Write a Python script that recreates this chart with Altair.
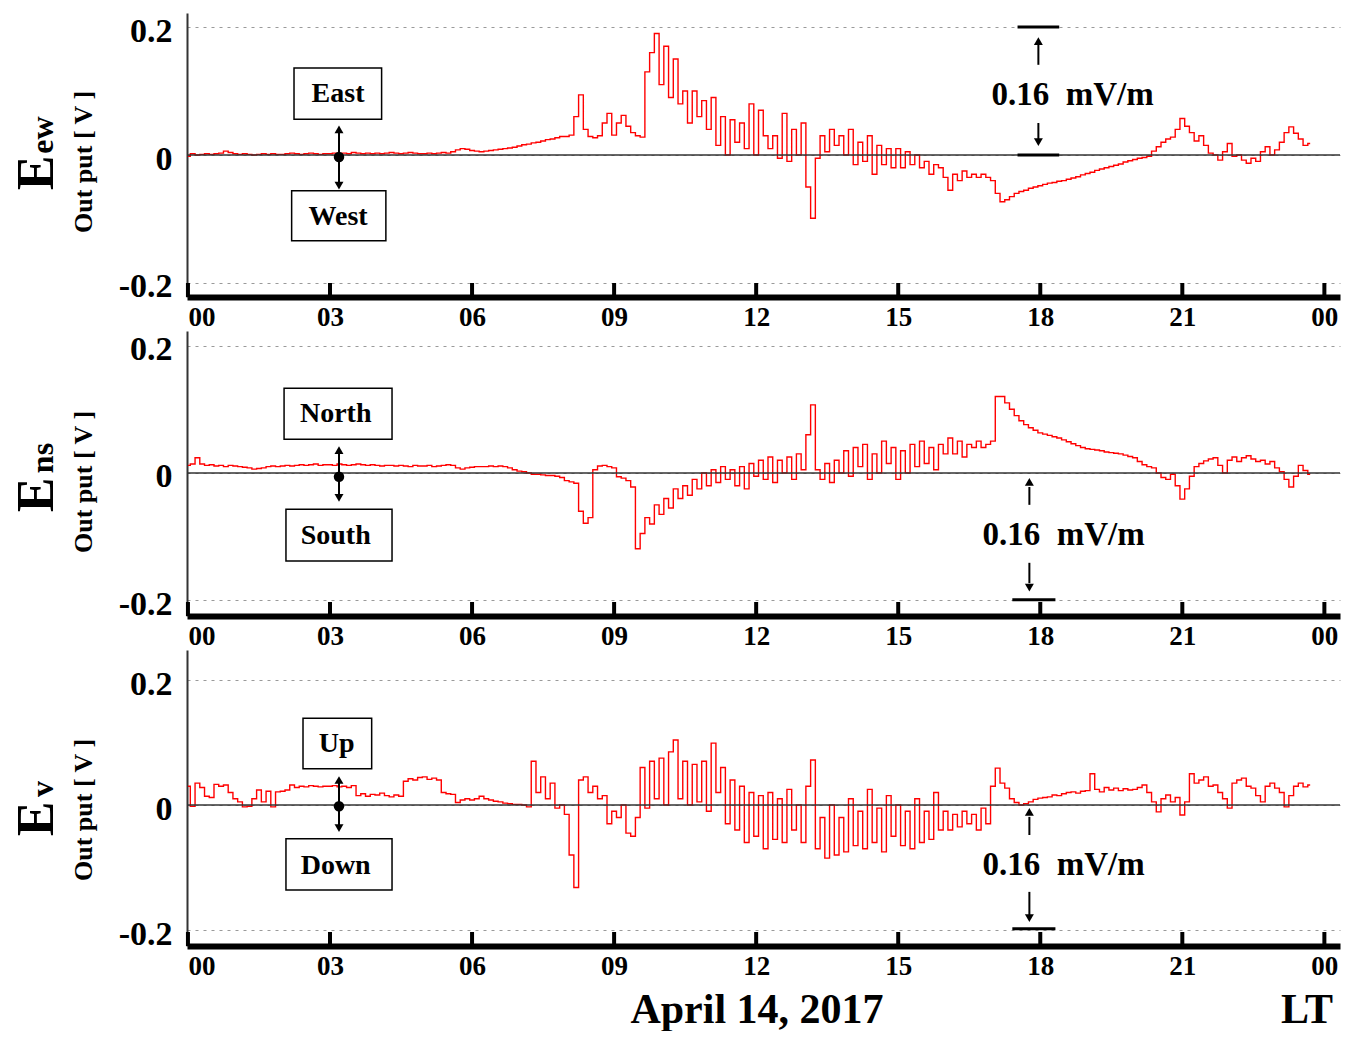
import altair as alt
import pandas as pd

STEP_H = 0.1

E_EW = [
    -0.002, 0.002, 0.000, 0.001, 0.002, 0.001, 0.002, 0.003, 0.006, 0.004,
    0.002, 0.001, 0.002, 0.001, 0.000, 0.001, 0.002, 0.001, 0.002, 0.001,
    0.001, 0.002, 0.003, 0.002, 0.001, 0.002, 0.003, 0.002, 0.001, 0.002,
    0.002, 0.003, 0.002, 0.003, 0.002, 0.004, 0.003, 0.002, 0.003, 0.002,
    0.003, 0.002, 0.003, 0.004, 0.003, 0.002, 0.003, 0.004, 0.003, 0.002,
    0.002, 0.003, 0.002, 0.003, 0.004, 0.003, 0.005, 0.008, 0.010, 0.009,
    0.007, 0.006, 0.005, 0.006, 0.007, 0.008, 0.009, 0.010, 0.011, 0.012,
    0.014, 0.016, 0.017, 0.019, 0.020, 0.022, 0.024, 0.025, 0.027, 0.029,
    0.029, 0.031, 0.060, 0.094, 0.040, 0.029, 0.027, 0.030, 0.050, 0.065,
    0.031, 0.050, 0.062, 0.045, 0.035, 0.030, 0.028, 0.130, 0.160, 0.190,
    0.110, 0.170, 0.090, 0.150, 0.080, 0.100, 0.050, 0.100, 0.060, 0.085,
    0.040, 0.090, 0.015, 0.060, 0.000, 0.055, 0.020, 0.050, 0.010, 0.080,
    0.000, 0.070, 0.030, 0.010, 0.030, -0.005, 0.065, -0.010, 0.040, 0.000,
    0.050, -0.050, -0.099, -0.005, 0.030, 0.005, 0.040, 0.015, 0.030, 0.000,
    0.040, -0.015, 0.020, -0.010, 0.030, -0.030, 0.015, -0.015, 0.010, -0.020,
    0.010, -0.020, 0.005, -0.015, 0.000, -0.020, -0.010, -0.030, -0.015, -0.020,
    -0.035, -0.055, -0.030, -0.040, -0.025, -0.035, -0.030, -0.035, -0.030, -0.035,
    -0.040, -0.060, -0.073, -0.070, -0.065, -0.060, -0.057, -0.055, -0.052, -0.050,
    -0.048, -0.046, -0.044, -0.043, -0.041, -0.040, -0.038, -0.036, -0.034, -0.031,
    -0.029, -0.027, -0.024, -0.022, -0.020, -0.018, -0.016, -0.014, -0.011, -0.009,
    -0.007, -0.005, -0.004, -0.002, 0.006, 0.013, 0.020, 0.025, 0.028, 0.040,
    0.057, 0.045, 0.035, 0.022, 0.030, 0.015, 0.003, 0.000, -0.008, 0.005,
    0.018, -0.002, 0.000, -0.008, -0.013, -0.005, -0.010, 0.005, 0.013, 0.000,
    0.008, 0.020, 0.035, 0.044, 0.034, 0.025, 0.015, 0.018,
]

E_NS = [
    0.012, 0.014, 0.024, 0.014, 0.012, 0.013, 0.011, 0.012, 0.010, 0.012,
    0.011, 0.010, 0.009, 0.008, 0.006, 0.007, 0.008, 0.010, 0.011, 0.010,
    0.011, 0.012, 0.011, 0.012, 0.013, 0.012, 0.013, 0.014, 0.012, 0.013,
    0.013, 0.012, 0.014, 0.013, 0.012, 0.013, 0.014, 0.013, 0.012, 0.013,
    0.012, 0.011, 0.012, 0.012, 0.011, 0.012, 0.011, 0.010, 0.012, 0.011,
    0.011, 0.012, 0.010, 0.011, 0.012, 0.013, 0.012, 0.008, 0.006, 0.008,
    0.009, 0.010, 0.010, 0.010, 0.011, 0.010, 0.011, 0.010, 0.008, 0.005,
    0.003, 0.002, 0.000, -0.002, -0.002, -0.003, -0.004, -0.004, -0.005, -0.007,
    -0.012, -0.014, -0.016, -0.060, -0.079, -0.070, 0.005, 0.011, 0.012, 0.010,
    0.008, -0.006, -0.008, -0.012, -0.022, -0.119, -0.095, -0.070, -0.080, -0.050,
    -0.065, -0.040, -0.055, -0.025, -0.040, -0.020, -0.035, -0.010, -0.025, 0.000,
    -0.020, 0.005, -0.015, 0.010, -0.010, 0.005, -0.020, 0.010, -0.025, 0.015,
    -0.005, 0.020, -0.010, 0.025, -0.015, 0.020, 0.000, 0.025, -0.010, 0.030,
    0.005, 0.060, 0.107, 0.005, -0.010, 0.015, -0.015, 0.020, 0.000, 0.035,
    -0.005, 0.040, 0.010, 0.045, -0.010, 0.030, 0.000, 0.050, 0.015, 0.040,
    -0.010, 0.035, 0.000, 0.045, 0.010, 0.050, 0.015, 0.040, 0.005, 0.045,
    0.030, 0.055, 0.030, 0.050, 0.025, 0.045, 0.040, 0.050, 0.040, 0.045,
    0.050, 0.120, 0.120, 0.110, 0.100, 0.090, 0.082, 0.076, 0.071, 0.067,
    0.063, 0.061, 0.059, 0.057, 0.055, 0.052, 0.049, 0.046, 0.043, 0.040,
    0.038, 0.037, 0.036, 0.035, 0.033, 0.032, 0.031, 0.030, 0.028, 0.026,
    0.024, 0.018, 0.013, 0.010, 0.008, 0.000, -0.007, -0.010, -0.002, -0.020,
    -0.041, -0.025, -0.005, 0.010, 0.015, 0.019, 0.022, 0.024, 0.012, 0.000,
    0.020, 0.025, 0.018, 0.024, 0.027, 0.022, 0.018, 0.020, 0.014, 0.018,
    0.008, 0.002, -0.010, -0.022, -0.005, 0.012, 0.004, -0.002,
]

E_V = [
    0.030, -0.002, 0.035, 0.028, 0.014, 0.012, 0.033, 0.030, 0.032, 0.020,
    0.010, 0.005, -0.003, -0.002, 0.010, 0.024, 0.005, 0.022, -0.003, 0.021,
    0.022, 0.024, 0.032, 0.028, 0.030, 0.029, 0.031, 0.030, 0.029, 0.030,
    0.030, 0.031, 0.029, 0.030, 0.028, 0.031, 0.015, 0.018, 0.014, 0.017,
    0.016, 0.019, 0.015, 0.013, 0.016, 0.014, 0.038, 0.042, 0.040, 0.044,
    0.045, 0.041, 0.043, 0.040, 0.020, 0.018, 0.017, 0.004, 0.008, 0.010,
    0.008, 0.010, 0.014, 0.010, 0.008, 0.006, 0.005, 0.003, 0.002, 0.001,
    0.001, 0.000, -0.003, 0.070, 0.020, 0.045, 0.010, 0.035, -0.005, 0.000,
    -0.015, -0.080, -0.132, 0.040, 0.045, 0.020, 0.030, 0.010, 0.015, -0.030,
    -0.010, -0.020, 0.000, -0.045, -0.050, -0.020, 0.060, -0.005, 0.070, 0.010,
    0.075, 0.000, 0.085, 0.104, 0.010, 0.070, 0.000, 0.065, 0.005, 0.070,
    -0.010, 0.099, 0.020, 0.060, -0.030, 0.040, -0.040, 0.030, -0.060, 0.020,
    -0.050, 0.015, -0.070, 0.020, -0.055, 0.010, -0.060, 0.025, -0.040, 0.000,
    -0.060, 0.030, 0.072, -0.070, -0.020, -0.085, 0.000, -0.080, -0.020, -0.075,
    0.010, -0.065, -0.010, -0.070, 0.025, -0.060, -0.005, -0.075, 0.015, -0.050,
    0.000, -0.065, -0.010, -0.070, 0.010, -0.060, -0.010, -0.055, 0.020, -0.040,
    -0.010, -0.040, -0.015, -0.035, -0.010, -0.030, -0.015, -0.040, -0.005, -0.030,
    0.030, 0.059, 0.035, 0.027, 0.010, 0.004, 0.000, 0.002, 0.005, 0.009,
    0.011, 0.012, 0.013, 0.016, 0.015, 0.018, 0.020, 0.021, 0.019, 0.022,
    0.023, 0.050, 0.025, 0.021, 0.028, 0.024, 0.027, 0.023, 0.026, 0.024,
    0.025, 0.028, 0.032, 0.020, 0.005, -0.011, 0.010, 0.016, 0.005, 0.012,
    -0.016, 0.005, 0.050, 0.035, 0.040, 0.045, 0.030, 0.032, 0.020, 0.010,
    -0.005, 0.035, 0.040, 0.043, 0.030, 0.027, 0.015, 0.005, 0.030, 0.035,
    0.027, 0.020, -0.003, 0.015, 0.030, 0.035, 0.029, 0.032,
]

TICK_HOURS = [0, 3, 6, 9, 12, 15, 18, 21, 24]
TICK_LABELS = ["00", "03", "06", "09", "12", "15", "18", "21", "00"]
Y_TICKS = [-0.2, 0, 0.2]
Y_TICK_LABELS = ["-0.2", "0", "0.2"]

# ---------------- styling ----------------
FONT = "Liberation Serif"
RED = "#ff0000"
W = 1153
X_DOMAIN = [-0.02, 24.33]
ONE = pd.DataFrame({"k": [0]})
SCALE_TXT = "0.16\u00a0 mV/m"


def series(vals):
    return pd.DataFrame({"h": [round(i * STEP_H, 2) for i in range(len(vals))], "v": vals})


def lab_expr(vals, labels):
    e = "''"
    for v, l in reversed(list(zip(vals, labels))):
        e = f"datum.value == {v} ? '{l}' : ({e})"
    return e


XS = alt.Scale(domain=X_DOMAIN, nice=False, zero=False)

XAXIS = alt.Axis(
    values=TICK_HOURS, labelExpr=lab_expr(TICK_HOURS, TICK_LABELS), title=None,
    labelFont=FONT, labelFontWeight="bold", labelFontSize=27, labelColor="black",
    labelPadding=7, ticks=False, domainColor="black", domainWidth=6, grid=False,
    labelFlush=False, labelBaseline="top",
    labelAlign={"expr": "datum.value == 0 ? 'left' : 'center'"},
)
YAXIS = alt.Axis(
    values=Y_TICKS, labelExpr=lab_expr(Y_TICKS, Y_TICK_LABELS), title=None,
    labelFont=FONT, labelFontWeight="bold", labelFontSize=34, labelColor="black",
    labelPadding=15, ticks=False, domainColor="#333333", domainWidth=2,
    grid=True, gridColor="#9a9a9a", gridDash=[3, 5], gridWidth=1.2, labelOffset=4,
)


def box(h1, h2, v1, v2):
    return alt.Chart(ONE).mark_rect(fill="white", stroke="black", strokeWidth=1.5).encode(
        x=alt.datum(h1), x2=alt.datum(h2), y=alt.datum(v1), y2=alt.datum(v2))


def dtext(t, h, v, size, align="center", baseline="middle"):
    return alt.Chart(ONE).mark_text(
        text=t, font=FONT, fontWeight="bold", fontSize=size, align=align,
        baseline=baseline, color="black").encode(x=alt.datum(h), y=alt.datum(v))


def vrule(h, v1, v2, w=2):
    return alt.Chart(ONE).mark_rule(color="black", strokeWidth=w).encode(
        x=alt.datum(h), y=alt.datum(v1), y2=alt.datum(v2))


def hrule(h1, h2, v, w=3):
    return alt.Chart(ONE).mark_rule(color="black", strokeWidth=w).encode(
        x=alt.datum(h1), x2=alt.datum(h2), y=alt.datum(v))


def head(h, v, up):
    return alt.Chart(ONE).mark_point(
        shape="triangle-up" if up else "triangle-down", filled=True, size=80,
        color="black", opacity=1).encode(x=alt.datum(h), y=alt.datum(v))


def dot(h, v):
    return alt.Chart(ONE).mark_point(shape="circle", filled=True, size=110,
                                     color="black", opacity=1).encode(
        x=alt.datum(h), y=alt.datum(v))


def ptext(t, x, y, size, angle=0, align="center"):
    return alt.Chart(ONE).mark_text(
        text=t, font=FONT, fontWeight="bold", fontSize=size, angle=angle, align=align,
        baseline="alphabetic", color="black").encode(x=alt.value(x), y=alt.value(y))


def anchor(x, y):
    # invisible mark that fixes the top-left extent of the drawing
    return alt.Chart(ONE).mark_rule(color="white", opacity=0, strokeWidth=1).encode(
        x=alt.value(x), x2=alt.value(x + 1), y=alt.value(y), y2=alt.value(y + 1))


def panel(vals, ydom, height, layers):
    ys = alt.Scale(domain=ydom, nice=False, zero=False)
    line = alt.Chart(series(vals)).mark_line(
        color=RED, strokeWidth=1.4, interpolate="step").encode(
        x=alt.X("h:Q", scale=XS, axis=XAXIS),
        y=alt.Y("v:Q", scale=ys, axis=YAXIS),
    )
    zero = alt.Chart(ONE).mark_rule(color="#333333", strokeWidth=1.3).encode(y=alt.datum(0))
    px_per = height / (ydom[1] - ydom[0])
    ticks = alt.Chart(pd.DataFrame({"h": TICK_HOURS})).mark_rule(
        color="black", strokeWidth=4).encode(
        x=alt.X("h:Q"), y=alt.datum(ydom[0]), y2=alt.datum(ydom[0] + 14 / px_per))
    return alt.layer(line, zero, ticks, *layers).properties(width=W, height=height)


AH = 3.19  # hour of the direction arrows

p1 = panel(E_EW, [-0.222, 0.222], 284, [
    anchor(-179, -5),
    box(2.24, 4.09, 0.056, 0.136), dtext("East", 3.17, 0.095, 28),
    box(2.19, 4.18, -0.134, -0.056), dtext("West", 3.17, -0.097, 28),
    vrule(AH, 0.042, -0.050), head(AH, 0.040, True), head(AH, -0.048, False),
    dot(AH, -0.003),
    hrule(17.52, 18.40, 0.2), hrule(17.52, 18.40, 0.0),
    vrule(17.96, 0.141, 0.172), head(17.96, 0.178, True),
    vrule(17.96, 0.050, 0.024), head(17.96, 0.020, False),
    dtext(SCALE_TXT, 16.97, 0.078, 33, align="left", baseline="alphabetic"),
    ptext("E", -134, 160, 52, angle=270), ptext("ew", -134, 122, 32, angle=270),
    ptext("Out put [ V ]", -95, 149, 26, angle=270),
])

p2 = panel(E_NS, [-0.2245, 0.2229], 285, [
    box(2.03, 4.31, 0.053, 0.133), dtext("North", 3.12, 0.093, 28),
    box(2.07, 4.31, -0.138, -0.057), dtext("South", 3.12, -0.099, 28),
    vrule(AH, 0.038, -0.041), head(AH, 0.036, True), head(AH, -0.039, False),
    dot(AH, -0.006),
    vrule(17.77, -0.022, -0.050), head(17.77, -0.014, True),
    dtext(SCALE_TXT, 16.78, -0.113, 33, align="left", baseline="alphabetic"),
    vrule(17.77, -0.141, -0.173), head(17.77, -0.180, False),
    hrule(17.41, 18.32, -0.199),
    ptext("E", -134, 164, 52, angle=270), ptext("ns", -134, 127, 32, angle=270),
    ptext("Out put [ V ]", -95, 151, 26, angle=270),
])

p3 = panel(E_V, [-0.2256, 0.248], 296, [
    box(2.43, 3.88, 0.058, 0.139), dtext("Up", 3.14, 0.098, 28),
    box(2.07, 4.31, -0.136, -0.054), dtext("Down", 3.12, -0.098, 28),
    vrule(AH, 0.042, -0.039), head(AH, 0.040, True), head(AH, -0.037, False),
    dot(AH, -0.002),
    vrule(17.77, -0.019, -0.048), head(17.77, -0.011, True),
    dtext(SCALE_TXT, 16.78, -0.112, 33, align="left", baseline="alphabetic"),
    vrule(17.77, -0.139, -0.176), head(17.77, -0.181, False),
    hrule(17.41, 18.32, -0.198),
    ptext("E", -134, 169, 52, angle=270), ptext("v", -134, 139, 32, angle=270),
    ptext("Out put [ V ]", -95, 160, 26, angle=270),
    ptext("April 14, 2017", 570, 373, 42), ptext("LT", 1120, 373, 42),
])

chart = alt.vconcat(p1, p2, p3, spacing=34, bounds="flush").configure_view(
    stroke=None
).properties(
    padding=0,
    background="white",
)

chart.save("out.html", embed_options={"renderer": "svg", "actions": False})
